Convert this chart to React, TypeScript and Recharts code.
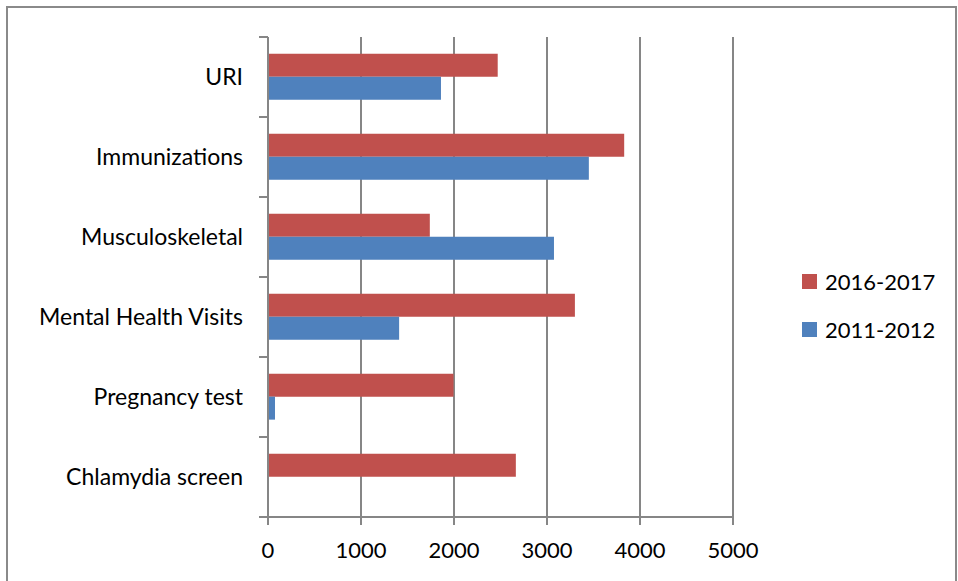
import { BarChart, Bar, XAxis, YAxis, CartesianGrid } from "recharts";

const CATEGORIES = ["URI", "Immunizations", "Musculoskeletal", "Mental Health Visits", "Pregnancy test", "Chlamydia screen"];
const Y2016 = [2470, 3830, 1740, 3300, 1995, 2665];
const Y2011 = [1860, 3450, 3075, 1410, 75, 0];
const X_TICKS = [0, 1000, 2000, 3000, 4000, 5000];

const SERIES = [
  { key: "y2016", name: "2016-2017", color: "#C0504D" },
  { key: "y2011", name: "2011-2012", color: "#4F81BD" },
];

const DATA = CATEGORIES.map((name, i) => ({ name, y2016: Y2016[i], y2011: Y2011[i] }));

const FONT = "Lato, 'Open Sans', sans-serif";
const FS = 22;
const AXIS = "#868686";

function CatTick(props: any) {
  const { x, y, payload, index } = props;
  const half = 40;
  const last = index === CATEGORIES.length - 1;
  return (
    <g>
      <line x1={x - 1} x2={x + 8} y1={y - half} y2={y - half} stroke={AXIS} strokeWidth={2} />
      {last && <line x1={x - 1} x2={x + 8} y1={y + half} y2={y + half} stroke={AXIS} strokeWidth={2} />}
      <text x={x - 17} y={y} dy={8} textAnchor="end" fontSize={23} fontFamily={FONT} fill="#000">
        {payload.value}
      </text>
    </g>
  );
}

export default function App() {
  return (
    <div style={{ position: "fixed", left: 0, top: 0, width: 958, height: 581, overflow: "hidden", background: "#fff" }}>
      <div style={{ position: "absolute", left: 6, top: 6, width: 947, height: 640, border: "2px solid #8a8a8a" }} />
      <div style={{ position: "absolute", left: 0, top: 0 }}>
        <BarChart
          width={958}
          height={581}
          data={DATA}
          layout="vertical"
          margin={{ top: 37, right: 225, bottom: 0, left: 8 }}
          barCategoryGap="20.8%"
          barGap={0}
        >
          <CartesianGrid horizontal={false} vertical stroke={AXIS} strokeWidth={2} />
          <XAxis
            type="number"
            domain={[0, 5000]}
            ticks={X_TICKS}
            interval={0}
            height={64}
            stroke={AXIS}
            strokeWidth={2}
            tickSize={8}
            tick={{ fontSize: FS, fontFamily: FONT, fill: "#000" }}
            tickMargin={17}
          />
          <YAxis
            type="category"
            dataKey="name"
            width={260}
            stroke={AXIS}
            strokeWidth={2}
            tickLine={false}
            tick={<CatTick />}
            interval={0}
          />
          {SERIES.map((s) => (
            <Bar key={s.key} dataKey={s.key} name={s.name} fill={s.color} isAnimationActive={false} />
          ))}
        </BarChart>
      </div>
      <div style={{ position: "absolute", left: 802, top: 257, fontFamily: FONT, fontSize: FS }}>
        {SERIES.map((s) => (
          <div key={s.key} style={{ display: "flex", alignItems: "center", height: 48 }}>
            <span style={{ display: "inline-block", width: 15, height: 15, background: s.color, marginRight: 8 }} />
            <span style={{ color: "#000" }}>{s.name}</span>
          </div>
        ))}
      </div>
    </div>
  );
}
